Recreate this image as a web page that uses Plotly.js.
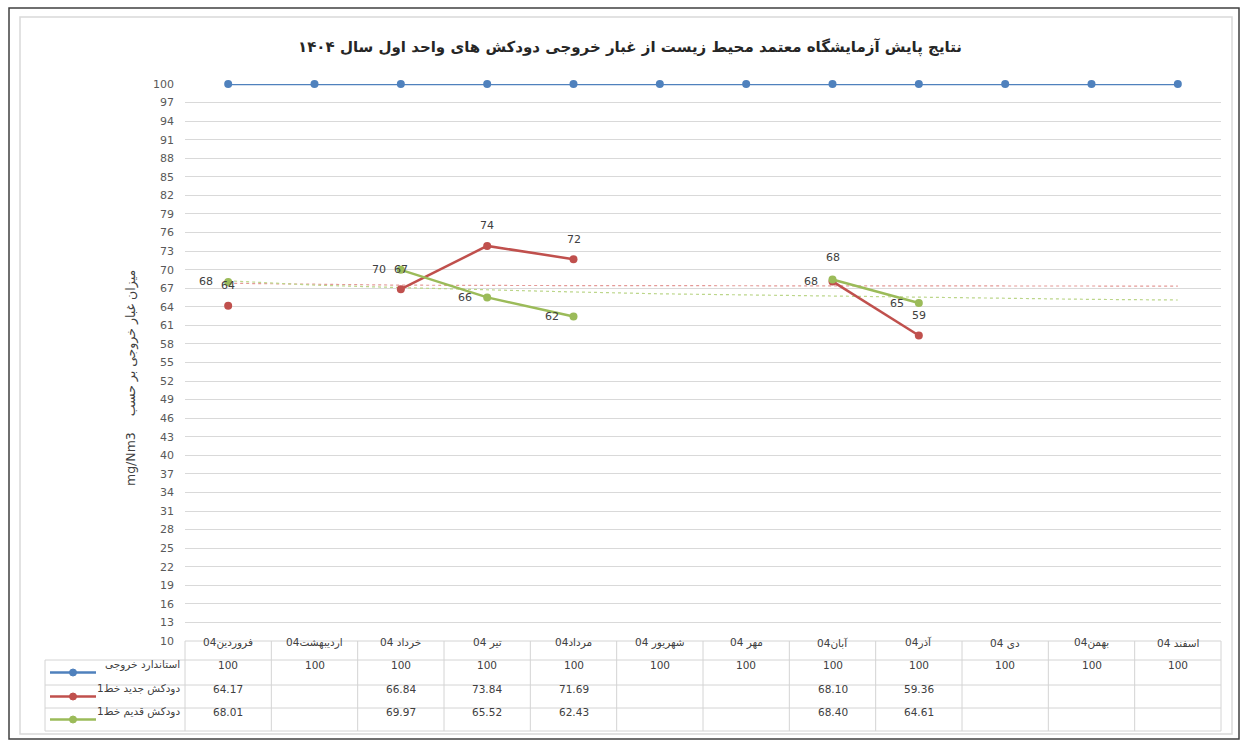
<!DOCTYPE html>
<html>
<head>
<meta charset="utf-8">
<script src="https://cdn.plot.ly/plotly-3.0.1.min.js"></script>
<style>html,body{margin:0;padding:0;background:#fff;}#chart{width:1247px;height:740px;}</style>
</head>
<body>
<div id="chart"></div>
<script>
// ---------- data ----------
const categories = ["فروردین04", "اردیبهشت04", "خرداد 04", "تیر 04", "مرداد04", "شهریور 04", "مهر 04", "آبان04", "آذر04", "دی 04", "بهمن04", "اسفند 04"];
const seriesNames = ["استاندارد خروجی", "دودکش جدید خط1", "دودکش قدیم خط1"];
const standardValues = [100, 100, 100, 100, 100, 100, 100, 100, 100, 100, 100, 100];
const newStackValues = [64.17, null, 66.84, 73.84, 71.69, null, null, 68.10, 59.36, null, null, null];
const oldStackValues = [68.01, null, 69.97, 65.52, 62.43, null, null, 68.40, 64.61, null, null, null];
// trendlines
const newTrendValues = [67.8, 67.6, 67.5, 67.45, 67.4, 67.4, 67.4, 67.38, 67.37, 67.36, 67.35, 67.35];
const oldTrendValues = [68.2, 67.5, 67.1, 66.7, 66.4, 66.1, 65.9, 65.7, 65.6, 65.4, 65.2, 65.1];
const titleText = "نتایج پایش آزمایشگاه معتمد محیط زیست از غبار خروجی دودکش های واحد اول سال ۱۴۰۴";
const yTitleText = "mg/Nm3\u00A0\u00A0\u00A0 میزان غبار خروجی بر حسب";

// ---------- styles ----------
const colors = ["#4F81BD", "#C0504D", "#9BBB59"];
const trendColors = ["#E49A98", "#BCD68A"];
const FONT = "DejaVu Sans, Noto Sans, sans-serif";
const idx = categories.map((_, i) => i);

// plot-area geometry (pixels)
const L = 185, R = 1221, T = 84, B = 641;
const px2x = px => (px - L) / (R - L);
const py2y = py => (B - py) / (B - T);

function lineTrace(vals, color, name) {
  return {x: idx, y: vals, type: "scatter", mode: "lines+markers", name: name,
    line: {color: color, width: 2.5}, marker: {color: color, size: 8},
    connectgaps: false, cliponaxis: false, hoverinfo: "x+y"};
}
function trendTrace(vals, color) {
  return {x: idx, y: vals, type: "scatter", mode: "lines",
    line: {color: color, width: 1.2, dash: "dot"}, hoverinfo: "skip"};
}

const traces = [
  trendTrace(newTrendValues, trendColors[0]),
  trendTrace(oldTrendValues, trendColors[1]),
  lineTrace(standardValues, colors[0], seriesNames[0]),
  lineTrace(newStackValues, colors[1], seriesNames[1]),
  lineTrace(oldStackValues, colors[2], seriesNames[2])
];

const annotations = [];
const shapes = [];

// data labels: red above, green left, except Aban (swapped)
const labelFont = {family: FONT, size: 11, color: "#404040"};
function addLabels(vals, normalShift, swapShift, swapIdx) {
  vals.forEach((v, i) => {
    if (v === null) return;
    const s = (i === swapIdx) ? swapShift : normalShift;
    annotations.push({x: i, y: v, xref: "x", yref: "y", text: String(Math.round(v)),
      showarrow: false, xshift: s[0], yshift: s[1], font: labelFont});
  });
}
addLabels(newStackValues, [0, 20], [-22, 0], 7);
addLabels(oldStackValues, [-22, 0], [0, 22], 7);

// y-axis title
annotations.push({xref: "paper", yref: "paper", x: px2x(121), y: py2y(378), text: yTitleText,
  textangle: -90, showarrow: false, font: {family: FONT, size: 12.5, color: "#404040"}});

// ---------- data table ----------
const gridC = "#D4D4D4";
const rowEdges = [641, 660, 685, 708, 731];
const tableLeft = 45;
function hline(x0, x1, py) {
  shapes.push({type: "line", xref: "paper", yref: "paper", x0: px2x(x0), x1: px2x(x1),
    y0: py2y(py), y1: py2y(py), line: {color: gridC, width: 1}});
}
function vline(px, py0, py1) {
  shapes.push({type: "line", xref: "paper", yref: "paper", x0: px2x(px), x1: px2x(px),
    y0: py2y(py0), y1: py2y(py1), line: {color: gridC, width: 1}});
}
hline(L, R, rowEdges[0]);
for (let r = 1; r < rowEdges.length; r++) hline(tableLeft, R, rowEdges[r]);
vline(tableLeft, rowEdges[1], rowEdges[4]);
for (let k = 0; k <= categories.length; k++) {
  const px = L + (R - L) * k / categories.length;
  vline(px, rowEdges[0], rowEdges[4]);
}
const tableFont = {family: FONT, size: 10.5, color: "#404040"};
categories.forEach((c, i) => {
  annotations.push({x: i, xref: "x", yref: "paper", y: py2y((rowEdges[0] + rowEdges[1]) / 2),
    text: c, showarrow: false, font: tableFont});
});
const rowSeries = [standardValues, newStackValues, oldStackValues];
rowSeries.forEach((vals, r) => {
  const yc = py2y((rowEdges[r + 1] + rowEdges[r + 2]) / 2);
  vals.forEach((v, i) => {
    if (v === null) return;
    annotations.push({x: i, xref: "x", yref: "paper", y: yc,
      text: r === 0 ? String(v) : v.toFixed(2), showarrow: false, font: tableFont});
  });
  // legend key + name
  annotations.push({xref: "paper", yref: "paper", x: px2x(182), y: yc, xanchor: "right",
    text: seriesNames[r], showarrow: false, font: tableFont});
  shapes.push({type: "line", xref: "paper", yref: "paper", x0: px2x(50), x1: px2x(96),
    y0: yc, y1: yc, line: {color: colors[r], width: 2.5}});
  const rx = 3.5 / (R - L), ry = 3.5 / (B - T);
  shapes.push({type: "circle", xref: "paper", yref: "paper", x0: px2x(73) - rx, x1: px2x(73) + rx,
    y0: yc - ry, y1: yc + ry, fillcolor: colors[r], line: {color: colors[r], width: 1}});
});

// frame borders
shapes.push({type: "rect", xref: "paper", yref: "paper", x0: px2x(20), x1: px2x(1232),
  y0: py2y(734), y1: py2y(17), line: {color: "#D9D9D9", width: 1.5}});
shapes.push({type: "rect", xref: "paper", yref: "paper", x0: px2x(9), x1: px2x(1239),
  y0: py2y(739), y1: py2y(8), line: {color: "#404040", width: 1.5}});

const layout = {
  width: 1247, height: 740,
  margin: {l: L, r: 1247 - R, t: T, b: 740 - B, pad: 0},
  paper_bgcolor: "#ffffff", plot_bgcolor: "#ffffff",
  showlegend: false,
  title: {text: "<b>" + titleText + "</b>", xref: "container", yref: "container",
    x: 630 / 1247, y: 1 - 47 / 740, xanchor: "center", yanchor: "middle",
    font: {family: FONT, size: 15, color: "#262626"}},
  xaxis: {range: [-0.5, 11.5], showticklabels: false, showgrid: false, zeroline: false,
    showline: false, ticks: "", fixedrange: true},
  yaxis: {range: [10, 100], tick0: 10, dtick: 3, gridcolor: "#D9D9D9", gridwidth: 1,
    zeroline: false, showline: false, ticks: "", ticklabelstandoff: 10,
    tickfont: {family: FONT, size: 11, color: "#595959"}, fixedrange: true},
  annotations: annotations,
  shapes: shapes
};

Plotly.newPlot("chart", traces, layout, {displayModeBar: false, staticPlot: true});
</script>
</body>
</html>
